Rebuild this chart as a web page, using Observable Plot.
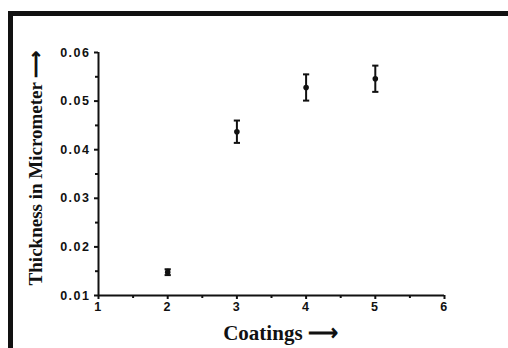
<!DOCTYPE html>
<html>
<head>
<meta charset="utf-8">
<script src="https://cdn.jsdelivr.net/npm/d3@7"></script>
<script src="https://cdn.jsdelivr.net/npm/@observablehq/plot@0.6"></script>
<style>
  html, body { margin: 0; padding: 0; background: #fff; }
  #wrap { position: relative; width: 508px; height: 348px; overflow: hidden; }
  #frame { position: absolute; left: 8px; top: 11px; width: 600px; height: 400px;
           border-left: 5px solid #111; border-top: 5px solid #111; box-sizing: border-box; }
  #chart { position: absolute; left: 0; top: 0; }
  #chart svg g.tk text { letter-spacing: 1.5px; }
</style>
</head>
<body>
<div id="wrap"><div id="frame"></div><div id="chart"></div></div>
<script>
const coatings = [2, 3, 4, 5];
const thickness = [0.0148, 0.0437, 0.0528, 0.0546];
const errors = [0.0006, 0.0023, 0.0027, 0.0027];
const xTicks = [1, 2, 3, 4, 5, 6];
const xMinor = [1.5, 2.5, 3.5, 4.5, 5.5];
const yTicks = [0.01, 0.02, 0.03, 0.04, 0.05, 0.06];
const yMinor = [0.015, 0.025, 0.035, 0.045, 0.055];

const data = coatings.map((c, i) => ({x: c, y: thickness[i], e: errors[i]}));
const capHalf = 0.045;

const plot = Plot.plot({
  width: 508,
  height: 348,
  marginLeft: 98,
  marginRight: 64,
  marginTop: 52,
  marginBottom: 53,
  style: {fontFamily: "'Liberation Sans', Arial, sans-serif", fontWeight: "bold", fontSize: "12.5px", color: "#111", background: "transparent"},
  x: {domain: [1, 6]},
  y: {domain: [0.01, 0.06]},
  marks: [
    Plot.axisX({ticks: xTicks, tickSize: 4, tickPadding: 3, tickFormat: d3.format("d"), label: null, strokeWidth: 2, className: "tk"}),
    Plot.axisX({ticks: xMinor, tickSize: 3, tickFormat: null, text: null, label: null, strokeWidth: 2}),
    Plot.axisY({ticks: yTicks, tickSize: 4, tickPadding: 4, tickFormat: d3.format(".2f"), label: null, strokeWidth: 2, className: "tk"}),
    Plot.axisY({ticks: yMinor, tickSize: 3, tickFormat: null, text: null, label: null, strokeWidth: 2}),
    Plot.ruleX([1], {stroke: "#111", strokeWidth: 2}),
    Plot.ruleY([0.01], {stroke: "#111", strokeWidth: 2}),
    Plot.ruleX(data, {x: "x", y1: d => d.y - d.e, y2: d => d.y + d.e, stroke: "#111", strokeWidth: 2}),
    Plot.link(data, {x1: d => d.x - capHalf, x2: d => d.x + capHalf, y1: d => d.y + d.e, y2: d => d.y + d.e, stroke: "#111", strokeWidth: 2}),
    Plot.link(data, {x1: d => d.x - capHalf, x2: d => d.x + capHalf, y1: d => d.y - d.e, y2: d => d.y - d.e, stroke: "#111", strokeWidth: 2}),
    Plot.dot(data, {x: "x", y: "y", r: 2.8, fill: "#111", stroke: "none"}),
    Plot.text(["Coatings ⟶"], {frameAnchor: "bottom", dx: 9, dy: 44, fontFamily: "'Liberation Serif', 'Times New Roman', serif", fontSize: 21, fontWeight: "bold", fill: "#111"}),
    Plot.text(["Thickness in Micrometer ⟶"], {frameAnchor: "left", textAnchor: "middle", rotate: -90, dx: -63, dy: -6, fontFamily: "'Liberation Serif', 'Times New Roman', serif", fontSize: 19, fontWeight: "bold", fill: "#111"})
  ]
});
document.getElementById("chart").appendChild(plot);
</script>
</body>
</html>
